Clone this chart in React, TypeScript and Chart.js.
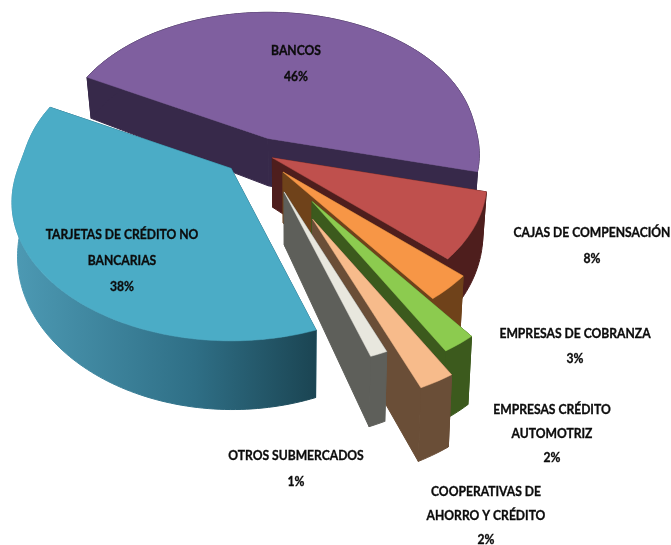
import React, { useEffect, useRef } from "react";
import { Chart, registerables } from "chart.js";

Chart.register(...registerables);

const categories = [
  ["BANCOS"],
  ["CAJAS DE COMPENSACIÓN"],
  ["EMPRESAS DE COBRANZA"],
  ["EMPRESAS CRÉDITO", "AUTOMOTRIZ"],
  ["COOPERATIVAS DE", "AHORRO Y CRÉDITO"],
  ["OTROS SUBMERCADOS"],
  ["TARJETAS DE CRÉDITO NO", "BANCARIAS"],
];
const shares = [46, 8, 3, 2, 2, 1, 38];

// styles
const topColors = ["#7f5f9f", "#bf504d", "#f79646", "#8ccb4f", "#f7bb8b", "#e8e7de", "#4bacc6"];
const wallColors = ["#37294a", "#4e1e1d", "#6f421a", "#3c5a1d", "#6a4e37", "#5e5f5a", "#2c6a80"];
const explode = [24, 13, 35, 96, 120, 66, 40];
const apexShift = [
  [-3, -1],
  [-1, 1],
  [-2, 3],
  [-1, -1],
  [0, 0],
  [0, 1],
  [0, 0],
];
const bulge = [0.00062, 0.00088, 0.00102, 0.00128, 0.00142, 0.00124, 0.00118];
const paintOrder = [0, 1, 2, 3, 4, 5, 6];
const labelCentres = [
  [296, 50],
  [592, 232],
  [575, 333],
  [552, 409],
  [486, 491],
  [296, 455],
  [122, 234],
];
const lineSteps = [26, 26, 25, 24, 24, 26, 26];

const CX = 262;
const CY = 153;
const SQUASH = 0.61;
const C0 = 0.00484;

const softPlus = (x: number) => (x + Math.sqrt(x * x + 0.01)) / 2;
const radial = (theta: number, p: number) => 1 / (C0 - p * softPlus(Math.sin(theta) + 0.1));
const wallDepth = (y: number) => 41 + 0.105 * (y - 77);
const down = (p: number[]) => [p[0] - (p[0] - 290) * 0.02, p[1] + wallDepth(p[1])];

function poly(ctx: CanvasRenderingContext2D, pts: number[][], fill: string | CanvasGradient, edge = 1) {
  ctx.beginPath();
  pts.forEach((p, i) => (i ? ctx.lineTo(p[0], p[1]) : ctx.moveTo(p[0], p[1])));
  ctx.closePath();
  ctx.fillStyle = fill;
  ctx.strokeStyle = fill;
  ctx.lineWidth = edge;
  ctx.fill();
  ctx.stroke();
}

const pie3d = {
  id: "pie3d",
  beforeDatasetDraw(chart: any) {
    const ctx: CanvasRenderingContext2D = chart.ctx;
    const meta = chart.getDatasetMeta(0);
    paintOrder.forEach((i) => {
      const arc = meta.data[i];
      const { startAngle: a0, endAngle: a1 } = arc.getProps(["startAngle", "endAngle"], true);
      const mid = (a0 + a1) / 2;
      const e = arc.options.offset;
      const ax = CX + e * Math.cos(mid) + apexShift[i][0];
      const ay = CY + e * Math.sin(mid) * SQUASH + apexShift[i][1];
      const apex = [ax, ay];
      const rim: number[][] = [];
      const n = Math.max(4, Math.ceil((a1 - a0) / 0.02));
      for (let s = 0; s <= n; s++) {
        const t = a0 + ((a1 - a0) * s) / n;
        const r = radial(t, bulge[i]);
        rim.push([ax + r * Math.cos(t), ay + r * Math.sin(t) * SQUASH]);
      }
      let wall: string | CanvasGradient = wallColors[i];
      if (i === 6) {
        const g = ctx.createLinearGradient(12, 0, 315, 0);
        g.addColorStop(0, "#4d9ab4");
        g.addColorStop(0.6, "#2f6f86");
        g.addColorStop(1, "#1b4553");
        wall = g;
      }
      const first = rim[0];
      const last = rim[rim.length - 1];
      poly(ctx, [apex, first, down(first), down(apex)], wallColors[i]);
      poly(ctx, [apex, last, down(last), down(apex)], wallColors[i]);
      poly(ctx, [...rim, ...rim.map(down).reverse()], wall);
      poly(ctx, [apex, ...rim], topColors[i], 0.5);
    });
    return false;
  },
  afterDraw(chart: any) {
    const ctx: CanvasRenderingContext2D = chart.ctx;
    ctx.save();
    ctx.font = "bold 14px Lato";
    ctx.textAlign = "center";
    ctx.textBaseline = "middle";
    ctx.fillStyle = "#0c0c0c";
    ctx.strokeStyle = "#0c0c0c";
    ctx.lineWidth = 0.35;
    categories.forEach((lines, i) => {
      const [x, y] = labelCentres[i];
      [...lines, `${shares[i]}%`].forEach((t, j) => {
        ctx.save();
        ctx.translate(x, y + j * lineSteps[i]);
        ctx.scale(0.865, 1);
        ctx.fillText(t, 0, 0);
        ctx.strokeText(t, 0, 0);
        ctx.restore();
      });
    });
    ctx.restore();
  },
};

export default function App() {
  const ref = useRef<HTMLCanvasElement>(null);
  useEffect(() => {
    document.body.style.margin = "0";
    const chart = new Chart(ref.current!, {
      type: "pie",
      data: {
        labels: categories.map((c) => c.join(" ")),
        datasets: [{ data: shares, backgroundColor: topColors, offset: explode, borderWidth: 0 }],
      },
      options: {
        animation: false,
        responsive: false,
        rotation: 299,
        plugins: { legend: { display: false }, tooltip: { enabled: false } },
      },
      plugins: [pie3d],
    } as any);
    return () => chart.destroy();
  }, []);
  return <canvas ref={ref} width={671} height={545} style={{ display: "block" }} />;
}
